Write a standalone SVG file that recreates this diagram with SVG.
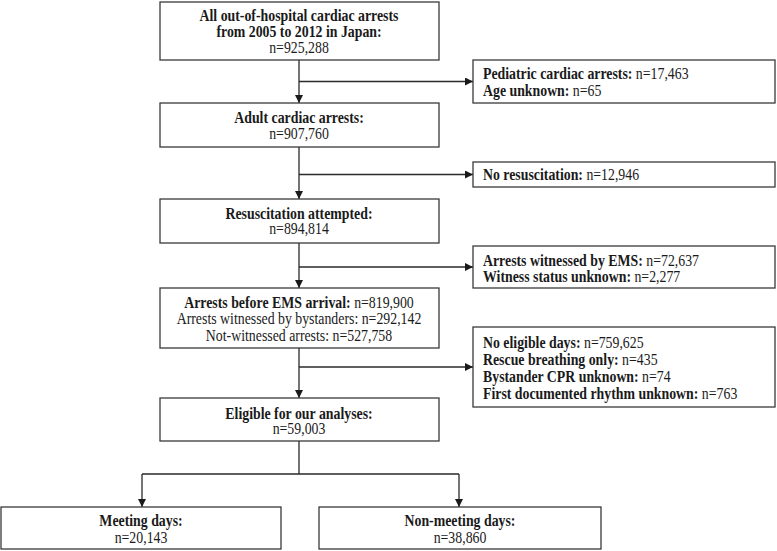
<svg xmlns="http://www.w3.org/2000/svg" width="777" height="551" viewBox="0 0 777 551">
<defs>
<style>
.box{fill:#fff;stroke:#3a3a3a;stroke-width:1.3}
.ln{fill:none;stroke:#2a2a2a;stroke-width:1.3}
text{font-family:"Liberation Serif","Times New Roman",serif;font-size:16px;fill:#1a1a1a}
.b{font-weight:bold}
.c{text-anchor:middle}
</style>
<marker id="ah" viewBox="0 0 10 10" refX="10" refY="5" markerWidth="8" markerHeight="8" markerUnits="userSpaceOnUse" orient="auto">
<path d="M0,0 L10,5 L0,10 z" fill="#1a1a1a"/>
</marker>
</defs>
<rect width="777" height="551" fill="#fff"/>
<g id="connectors">
<path class="ln" d="M299,60 V103" marker-end="url(#ah)"/>
<path class="ln" d="M299,81.5 H473" marker-end="url(#ah)"/>
<path class="ln" d="M299,147 V199" marker-end="url(#ah)"/>
<path class="ln" d="M299,174.5 H473" marker-end="url(#ah)"/>
<path class="ln" d="M299,243 V288" marker-end="url(#ah)"/>
<path class="ln" d="M299,267 H473" marker-end="url(#ah)"/>
<path class="ln" d="M299,348 V398" marker-end="url(#ah)"/>
<path class="ln" d="M299,367 H473" marker-end="url(#ah)"/>
<path class="ln" d="M299,441 V474 M142,474 H459"/>
<path class="ln" d="M142,474 V507" marker-end="url(#ah)"/>
<path class="ln" d="M459,474 V507" marker-end="url(#ah)"/>
</g>
<g id="n1">
<rect class="box" x="160" y="2" width="279" height="58"/>
<text class="c b" transform="translate(299 20.5) scale(0.865 1)">All out-of-hospital cardiac arrests</text>
<text class="c b" transform="translate(299 37) scale(0.865 1)">from 2005 to 2012 in Japan:</text>
<text class="c" transform="translate(299 53) scale(0.865 1)">n=925,288</text>
</g>
<g id="n2">
<rect class="box" x="473" y="60" width="302" height="43"/>
<text transform="translate(483 78.5) scale(0.865 1)"><tspan class="b">Pediatric cardiac arrests:</tspan> n=17,463</text>
<text transform="translate(483 95.5) scale(0.865 1)"><tspan class="b">Age unknown:</tspan> n=65</text>
</g>
<g id="n3">
<rect class="box" x="160" y="103" width="279" height="44"/>
<text class="c b" transform="translate(299 122.5) scale(0.865 1)">Adult cardiac arrests:</text>
<text class="c" transform="translate(299 138.5) scale(0.865 1)">n=907,760</text>
</g>
<g id="n4">
<rect class="box" x="473" y="162" width="302" height="25"/>
<text transform="translate(483 180) scale(0.865 1)"><tspan class="b">No resuscitation:</tspan> n=12,946</text>
</g>
<g id="n5">
<rect class="box" x="160" y="199" width="279" height="44"/>
<text class="c b" transform="translate(299 218.5) scale(0.865 1)">Resuscitation attempted:</text>
<text class="c" transform="translate(299 234) scale(0.865 1)">n=894,814</text>
</g>
<g id="n6">
<rect class="box" x="473" y="246" width="302" height="42"/>
<text transform="translate(483 265.5) scale(0.865 1)"><tspan class="b">Arrests witnessed by EMS:</tspan> n=72,637</text>
<text transform="translate(483 281.5) scale(0.865 1)"><tspan class="b">Witness status unknown:</tspan> n=2,277</text>
</g>
<g id="n7">
<rect class="box" x="160" y="288" width="279" height="60"/>
<text class="c" transform="translate(299 307.5) scale(0.865 1)"><tspan class="b">Arrests before EMS arrival:</tspan> n=819,900</text>
<text class="c" transform="translate(299 324) scale(0.865 1)">Arrests witnessed by bystanders: n=292,142</text>
<text class="c" transform="translate(299 340.5) scale(0.865 1)">Not-witnessed arrests: n=527,758</text>
</g>
<g id="n8">
<rect class="box" x="473" y="327" width="302" height="80"/>
<text transform="translate(483 347.5) scale(0.865 1)"><tspan class="b">No eligible days:</tspan> n=759,625</text>
<text transform="translate(483 364.5) scale(0.865 1)"><tspan class="b">Rescue breathing only:</tspan> n=435</text>
<text transform="translate(483 381.5) scale(0.865 1)"><tspan class="b">Bystander CPR unknown:</tspan> n=74</text>
<text transform="translate(483 398.5) scale(0.865 1)"><tspan class="b">First documented rhythm unknown:</tspan> n=763</text>
</g>
<g id="n9">
<rect class="box" x="160" y="398" width="279" height="43"/>
<text class="c b" transform="translate(299 418.5) scale(0.865 1)">Eligible for our analyses:</text>
<text class="c" transform="translate(299 434) scale(0.865 1)">n=59,003</text>
</g>
<g id="n10">
<rect class="box" x="1" y="507" width="280" height="42"/>
<text class="c b" transform="translate(141 525.5) scale(0.865 1)">Meeting days:</text>
<text class="c" transform="translate(141 542.5) scale(0.865 1)">n=20,143</text>
</g>
<g id="n11">
<rect class="box" x="319" y="507" width="282" height="42"/>
<text class="c b" transform="translate(460 525.5) scale(0.865 1)">Non-meeting days:</text>
<text class="c" transform="translate(460 542.5) scale(0.865 1)">n=38,860</text>
</g>
</svg>
